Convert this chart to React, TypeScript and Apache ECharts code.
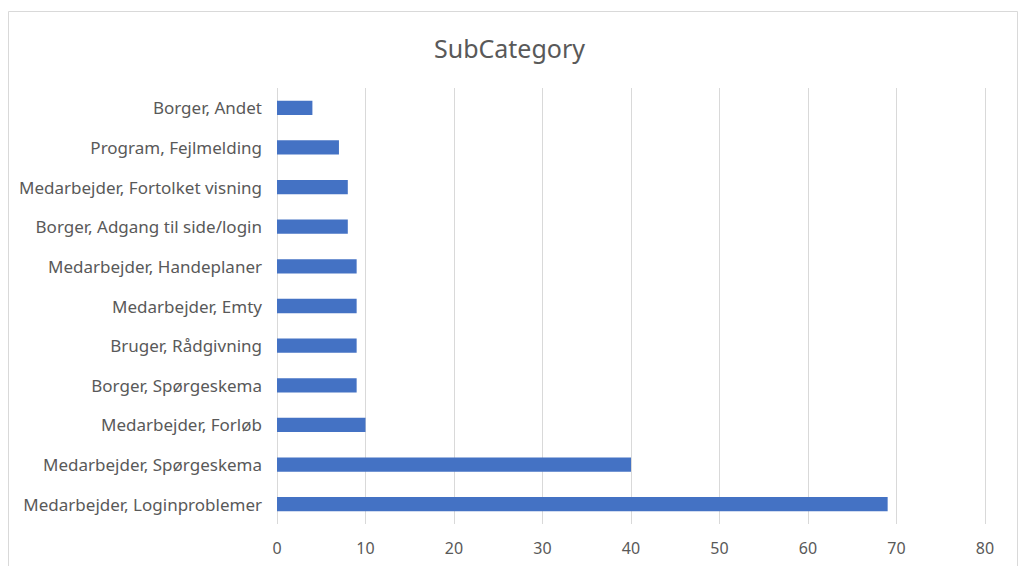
import React, { useEffect, useRef } from "react";
import * as echarts from "echarts";

const categories = [
  "Medarbejder, Loginproblemer",
  "Medarbejder, Spørgeskema",
  "Medarbejder, Forløb",
  "Borger, Spørgeskema",
  "Bruger, Rådgivning",
  "Medarbejder, Emty",
  "Medarbejder, Handeplaner",
  "Borger, Adgang til side/login",
  "Medarbejder, Fortolket visning",
  "Program, Fejlmelding",
  "Borger, Andet",
];
const values = [69, 40, 10, 9, 9, 9, 9, 8, 8, 7, 4];
const titleText = "SubCategory";

export default function App() {
  const ref = useRef<HTMLDivElement>(null);
  useEffect(() => {
    if (!ref.current) return;
    const chart = echarts.init(ref.current, null, { renderer: "svg" });
    const font = "'Noto Sans', sans-serif";
    chart.setOption({
      animation: false,
      backgroundColor: "#ffffff",
      title: {
        text: titleText,
        left: "center",
        top: 30,
        textStyle: { fontFamily: font, fontSize: 25, fontWeight: "normal", color: "#595959" },
      },
      graphic: [
        {
          type: "rect",
          shape: { x: 8.5, y: 11.5, width: 1009, height: 560 },
          style: { fill: "none", stroke: "#d9d9d9", lineWidth: 1 },
          silent: true,
        },
      ],
      grid: { left: 277, right: 34, top: 88, bottom: 42, containLabel: false },
      xAxis: {
        type: "value",
        min: 0,
        max: 80,
        interval: 10,
        axisLine: { show: false },
        axisTick: { show: false },
        splitLine: { show: true, lineStyle: { color: "#d9d9d9", width: 1 } },
        axisLabel: { color: "#595959", fontFamily: font, fontSize: 16, margin: 16 },
      },
      yAxis: {
        type: "category",
        data: categories,
        axisLine: { show: false },
        axisTick: { show: false },
        splitLine: { show: false },
        axisLabel: { color: "#595959", fontFamily: font, fontSize: 17, margin: 15 },
      },
      series: [
        {
          type: "bar",
          data: values,
          barWidth: "36%",
          itemStyle: { color: "#4472C4" },
        },
      ],
    });
    return () => chart.dispose();
  }, []);
  return (
    <div
      ref={ref}
      style={{ position: "fixed", left: 0, top: 0, width: 1019, height: 566 }}
    />
  );
}
